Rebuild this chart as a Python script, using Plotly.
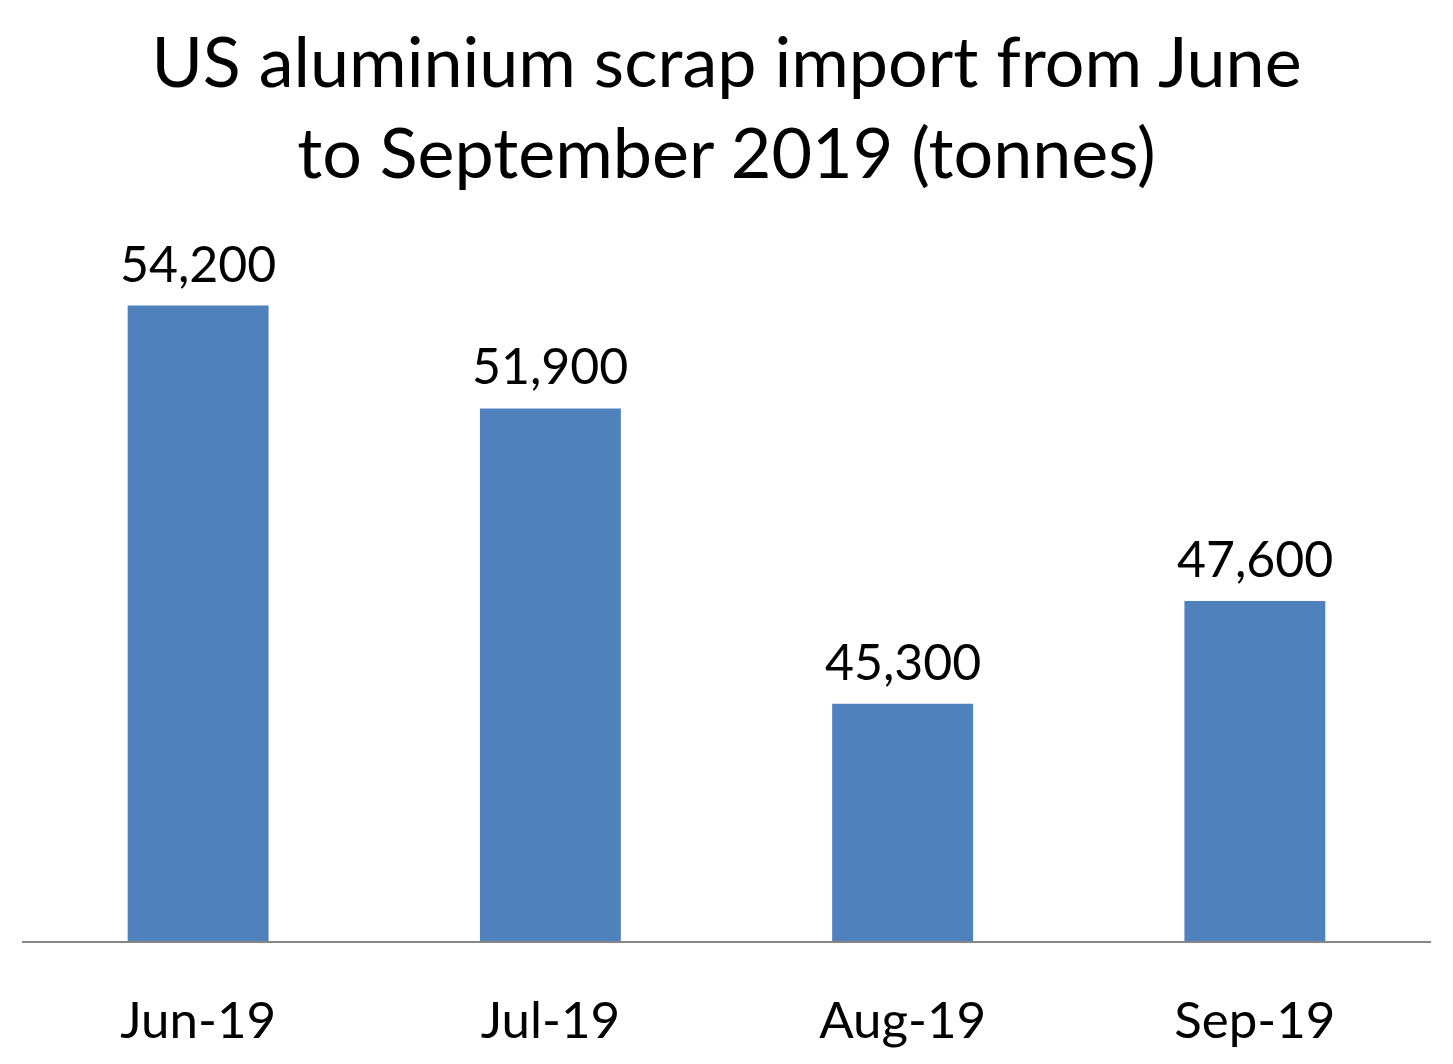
import plotly.graph_objects as go

months = ["Jun-19", "Jul-19", "Aug-19", "Sep-19"]
imports_tonnes = [54200, 51900, 45300, 47600]
title_text = "US aluminium scrap import from June<br>to September 2019 (tonnes)"

FONT = "Lato"
BAR_COLOR = "#4F81BD"

fig = go.Figure()
fig.add_trace(go.Bar(
    x=months, y=imports_tonnes,
    marker=dict(color=BAR_COLOR, line=dict(width=0)),
    width=0.4,
    hoverinfo="skip",
))

for m, v in zip(months, imports_tonnes):
    fig.add_annotation(x=m, y=v, text=f"{v:,}", showarrow=False,
                       yanchor="bottom", yshift=11,
                       font=dict(family=FONT, size=50, color="black"))

fig.update_layout(
    width=1453, height=1064,
    margin=dict(l=22, r=22, t=225, b=123),
    paper_bgcolor="white", plot_bgcolor="white",
    showlegend=False,
    bargap=0.6,
    title=dict(text=title_text, x=0.5, xanchor="center",
               y=1 - 87 / 1064, yanchor="middle", yref="container",
               font=dict(family=FONT, size=70, color="black")),
    xaxis=dict(showline=True, linecolor="#868686", linewidth=1.5,
               ticks="", showgrid=False, zeroline=False,
               tickfont=dict(family=FONT, size=51, color="black"),
               ticklabelstandoff=34),
    yaxis=dict(range=[40000, 56000], visible=False, showgrid=False,
               zeroline=False),
)

fig.write_html("out.html")
